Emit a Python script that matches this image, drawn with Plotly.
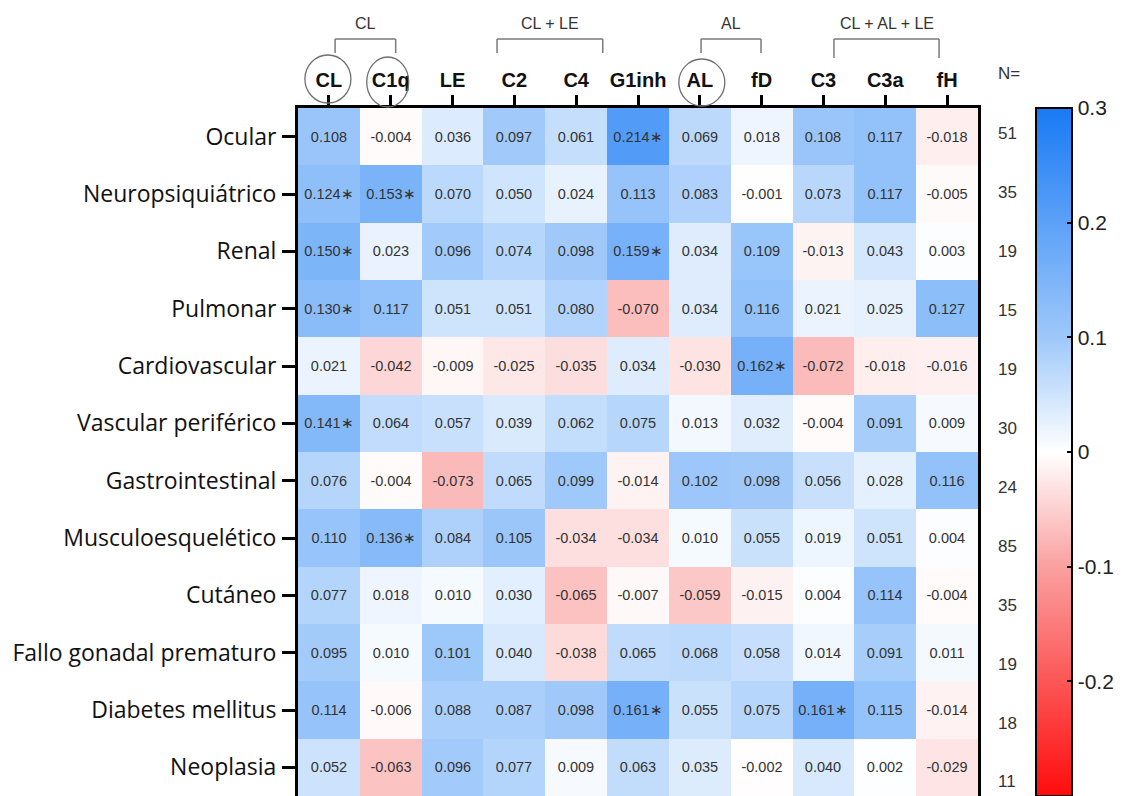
import plotly.graph_objects as go

columns = ["CL", "C1q", "LE", "C2", "C4", "G1inh", "AL", "fD", "C3", "C3a", "fH"]
rows = ["Ocular", "Neuropsiquiátrico", "Renal", "Pulmonar", "Cardiovascular",
        "Vascular periférico", "Gastrointestinal", "Musculoesquelético", "Cutáneo",
        "Fallo gonadal prematuro", "Diabetes mellitus", "Neoplasia"]
n_values = [51, 35, 19, 15, 19, 30, 24, 85, 35, 19, 18, 11]

values = [
    [0.108, -0.004, 0.036, 0.097, 0.061, 0.214, 0.069, 0.018, 0.108, 0.117, -0.018],
    [0.124, 0.153, 0.070, 0.050, 0.024, 0.113, 0.083, -0.001, 0.073, 0.117, -0.005],
    [0.150, 0.023, 0.096, 0.074, 0.098, 0.159, 0.034, 0.109, -0.013, 0.043, 0.003],
    [0.130, 0.117, 0.051, 0.051, 0.080, -0.070, 0.034, 0.116, 0.021, 0.025, 0.127],
    [0.021, -0.042, -0.009, -0.025, -0.035, 0.034, -0.030, 0.162, -0.072, -0.018, -0.016],
    [0.141, 0.064, 0.057, 0.039, 0.062, 0.075, 0.013, 0.032, -0.004, 0.091, 0.009],
    [0.076, -0.004, -0.073, 0.065, 0.099, -0.014, 0.102, 0.098, 0.056, 0.028, 0.116],
    [0.110, 0.136, 0.084, 0.105, -0.034, -0.034, 0.010, 0.055, 0.019, 0.051, 0.004],
    [0.077, 0.018, 0.010, 0.030, -0.065, -0.007, -0.059, -0.015, 0.004, 0.114, -0.004],
    [0.095, 0.010, 0.101, 0.040, -0.038, 0.065, 0.068, 0.058, 0.014, 0.091, 0.011],
    [0.114, -0.006, 0.088, 0.087, 0.098, 0.161, 0.055, 0.075, 0.161, 0.115, -0.014],
    [0.052, -0.063, 0.096, 0.077, 0.009, 0.063, 0.035, -0.002, 0.040, 0.002, -0.029],
]

# significance flags (1 = marked with *)
significant = [
    [0, 0, 0, 0, 0, 1, 0, 0, 0, 0, 0],
    [1, 1, 0, 0, 0, 0, 0, 0, 0, 0, 0],
    [1, 0, 0, 0, 0, 1, 0, 0, 0, 0, 0],
    [1, 0, 0, 0, 0, 0, 0, 0, 0, 0, 0],
    [0, 0, 0, 0, 0, 0, 0, 1, 0, 0, 0],
    [1, 0, 0, 0, 0, 0, 0, 0, 0, 0, 0],
    [0, 0, 0, 0, 0, 0, 0, 0, 0, 0, 0],
    [0, 1, 0, 0, 0, 0, 0, 0, 0, 0, 0],
    [0, 0, 0, 0, 0, 0, 0, 0, 0, 0, 0],
    [0, 0, 0, 0, 0, 0, 0, 0, 0, 0, 0],
    [0, 0, 0, 0, 0, 1, 0, 0, 1, 0, 0],
    [0, 0, 0, 0, 0, 0, 0, 0, 0, 0, 0],
]

# column groups: (label, start position, end position)
groups = [("CL", 0.10, 1.08), ("CL + LE", 2.72, 4.43), ("AL", 6.02, 6.99), ("CL + AL + LE", 8.17, 9.87)]
circled = ["CL", "C1q", "AL"]

colorbar_ticks = [-0.2, -0.1, 0, 0.1, 0.2, 0.3]
colorbar_labels = ["-0.2", "-0.1", "0", "0.1", "0.2", "0.3"]

text = [[f"{v:.3f}" + ("∗" if s else "") for v, s in zip(rv, rs)] for rv, rs in zip(values, significant)]

colorscale = [
    [0.0, "rgb(255,12,12)"],
    [0.333, "rgb(250,160,160)"],
    [0.5, "rgb(255,255,255)"],
    [0.667, "rgb(158,200,250)"],
    [1.0, "rgb(25,122,245)"],
]

fig = go.Figure()
fig.add_trace(go.Heatmap(
    z=values, x=columns, y=rows, text=text,
    texttemplate="%{text}",
    textfont=dict(family="Liberation Sans, Arial", size=14.5, color="#333333"),
    colorscale=colorscale, zmin=-0.3, zmax=0.3,
    hoverinfo="skip",
    colorbar=dict(
        x=1.085, xanchor="left", xpad=0, y=1, yanchor="top", ypad=0,
        len=1, lenmode="fraction", thickness=36,
        outlinecolor="black", outlinewidth=2,
        tickvals=colorbar_ticks, ticktext=colorbar_labels,
        ticks="inside", ticklen=6, tickwidth=2, tickcolor="black",
        tickfont=dict(family="Liberation Sans, Arial", size=21, color="#222222"),
    ),
))

# the page body has an 8px margin, so the figure is 8px smaller on each side
fig.update_layout(
    width=1115, height=788, autosize=False,
    margin=dict(l=290, r=145, t=100, b=0, pad=0),
    paper_bgcolor="white", plot_bgcolor="white",
    showlegend=False,
    xaxis=dict(
        side="top", type="category", showgrid=False, zeroline=False,
        showline=True, linecolor="black", linewidth=3,
        ticks="outside", ticklen=10, tickwidth=3, tickcolor="black",
        tickfont=dict(family="Liberation Sans, Arial", size=20, color="#111111", weight="bold"),
        fixedrange=True,
    ),
    yaxis=dict(
        type="category", autorange="reversed", showgrid=False, zeroline=False,
        showline=True, mirror=True, linecolor="black", linewidth=3,
        ticks="outside", ticklen=13, tickwidth=3, tickcolor="black",
        tickfont=dict(family="Open Sans", size=23, color="#111111"),
        ticklabelstandoff=1,
        fixedrange=True,
    ),
)

shapes = []
# circles around selected labels
circle_px = {"CL": (-24, 22, 5, 53), "C1q": (-24, 18, 1, 51), "AL": (-21, 25, 2, 49)}
for name in circled:
    dx0, dx1, dy0, dy1 = circle_px[name]
    shapes.append(dict(
        type="circle", xref="x", yref="paper",
        xsizemode="pixel", xanchor=columns.index(name), x0=dx0, x1=dx1,
        ysizemode="pixel", yanchor=1, y0=dy0, y1=dy1,
        line=dict(color="#6e6e6e", width=1.3), layer="above",
    ))

for label, a, b in groups:
    drop = 50 if label == "CL + AL + LE" else 55
    for xa, xb, ya, yb in [(a, b, 69, 69), (a, a, 69, drop), (b, b, 69, drop)]:
        shapes.append(dict(
            type="line", xref="x", yref="paper",
            x0=xa, x1=xb, ysizemode="pixel", yanchor=1, y0=ya, y1=yb,
            line=dict(color="#7a7a7a", width=1.5),
        ))
    fig.add_annotation(
        x=(a + b) / 2, xref="x", y=1, yref="paper", yshift=85,
        text=label, showarrow=False, yanchor="middle",
        font=dict(family="Liberation Sans, Arial", size=16, color="#333333"),
    )

fig.update_layout(shapes=shapes)

fig.add_annotation(
    x=1.027, xref="paper", y=1, yref="paper", yshift=35, xanchor="left",
    text="N=", showarrow=False, yanchor="middle",
    font=dict(family="Liberation Sans, Arial", size=17, color="#333333"),
)
for i, (r, n) in enumerate(zip(rows, n_values)):
    fig.add_annotation(
        x=1.027, xref="paper", y=r, yref="y", xanchor="left", yanchor="middle",
        yshift=2.7 - 1.57 * i,
        text=str(n), showarrow=False,
        font=dict(family="Liberation Sans, Arial", size=17, color="#333333"),
    )

fig.write_html("out.html")
